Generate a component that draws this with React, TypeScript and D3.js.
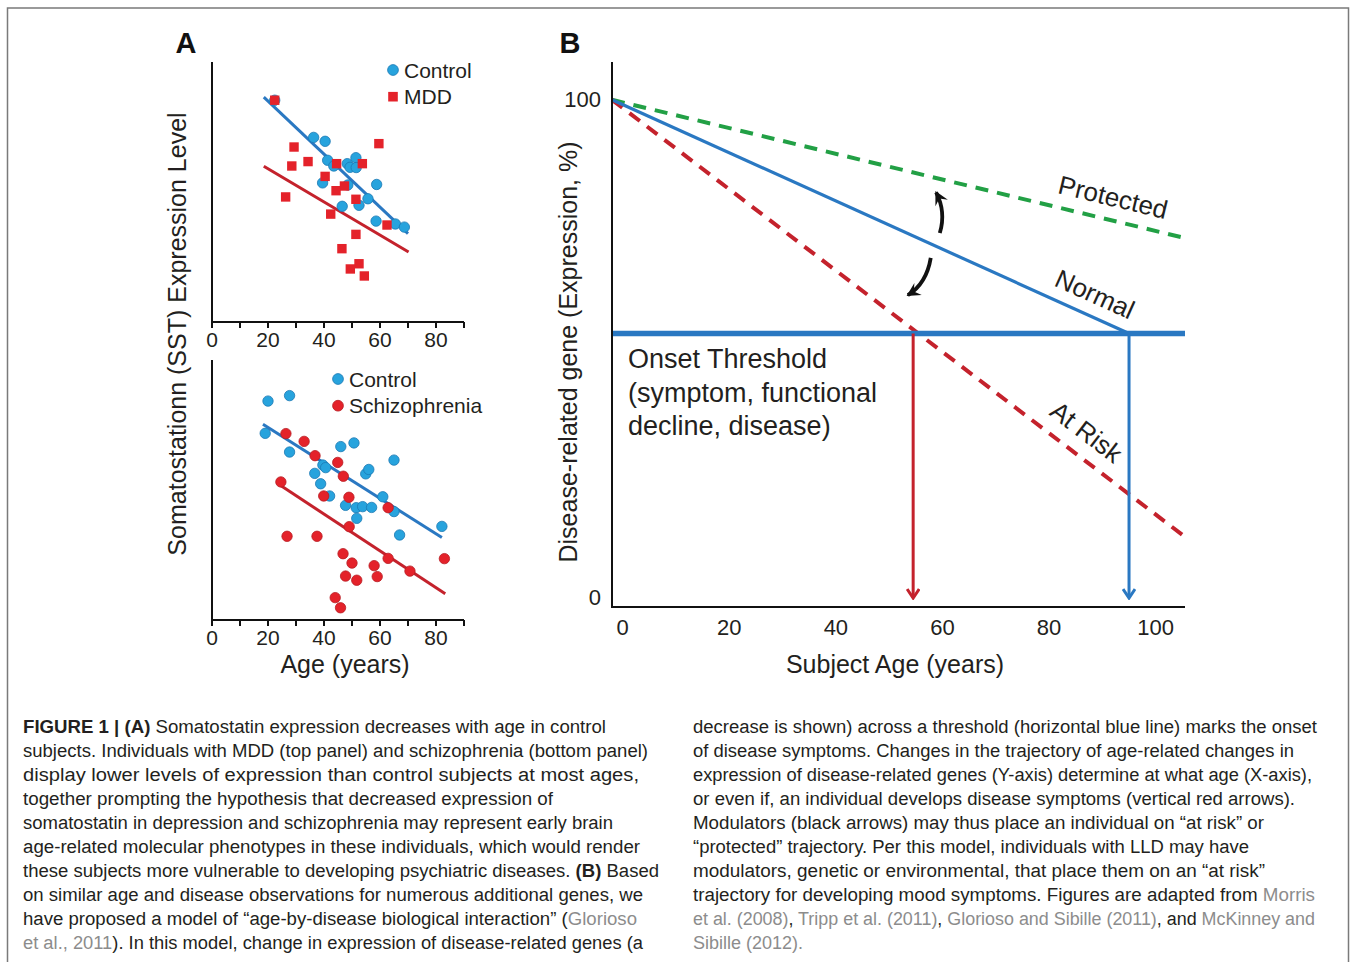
import React from "react";
import * as d3 from "d3";

// Panel A (top): SST expression vs age, [age, level]
const mddControl: [number, number][] = [
  [22.4, 85.3], [36.3, 71.0], [40.4, 69.5], [41.3, 62.2], [43.5, 60.0],
  [48.3, 60.9], [49.3, 59.5], [51.4, 63.2], [51.5, 59.4], [39.5, 53.5],
  [48.5, 52.7], [58.8, 52.9], [46.5, 44.5], [52.5, 44.9], [55.7, 47.4],
  [58.6, 38.8], [65.5, 37.7], [68.7, 36.5],
];
const mddPatients: [number, number][] = [
  [22.4, 85.3], [29.3, 67.3], [28.5, 60.0], [34.3, 61.7], [44.5, 60.9],
  [53.7, 60.9], [59.6, 68.6], [40.4, 56.0], [47.3, 52.3], [44.3, 50.5],
  [51.4, 47.2], [26.3, 48.1], [42.4, 41.5], [62.5, 37.3], [51.4, 33.7],
  [46.4, 28.2], [52.5, 22.4], [49.4, 20.4], [54.4, 17.7],
];
const mddControlFit: [number, number][] = [[18.5, 86.5], [70, 34.0]];
const mddPatientFit: [number, number][] = [[18.5, 59.9], [70.2, 26.9]];

// Panel A (bottom): control vs schizophrenia
const szControl: [number, number][] = [
  [20.0, 84.2], [27.7, 86.3], [19.0, 71.8], [27.7, 64.6], [46.0, 66.7],
  [50.7, 68.1], [39.6, 59.6], [40.6, 58.6], [36.7, 56.4], [54.9, 56.2],
  [56.0, 57.9], [65.0, 61.5], [38.8, 52.4], [42.0, 47.7], [47.7, 44.1],
  [51.5, 43.2], [53.8, 43.6], [57.0, 43.3], [51.7, 39.1], [61.0, 47.4],
  [65.0, 41.7], [67.0, 32.7], [82.1, 36.0],
];
const szPatients: [number, number][] = [
  [26.4, 71.7], [32.9, 68.7], [36.8, 63.2], [44.9, 60.6], [46.9, 55.3],
  [24.6, 53.1], [39.9, 47.7], [48.9, 47.2], [62.9, 43.2], [49.0, 35.9],
  [26.8, 32.2], [37.5, 32.2], [46.8, 25.5], [50.0, 21.9], [57.9, 20.9],
  [47.7, 16.9], [59.0, 16.7], [51.7, 15.3], [62.9, 23.7], [70.7, 18.8],
  [83.0, 23.6], [44.0, 8.6], [45.9, 4.7],
];
const szControlFit: [number, number][] = [[18.2, 75.3], [82.1, 31.7]];
const szPatientFit: [number, number][] = [[24.8, 51.5], [83.3, 10.1]];

const ageLabelsA = [0, 20, 40, 60, 80];
const ageTicksA = [0, 10, 20, 30, 40, 50, 60, 70, 80, 90];

// Panel B: model trajectories, [age, expression %]
const protectedPath: [number, number][] = [[-2, 100], [105.5, 72.2]];
const normalPath: [number, number][] = [[-2, 100], [95, 53]];
const atRiskPath: [number, number][] = [[-2, 100], [105.5, 12.1]];
const onsetThreshold = 53;
const onsetAtRisk = 54.5;
const onsetNormal = 95;
const upModulator: [number, number][] = [[59.5, 73.2], [60.7, 77.5], [58.8, 81.4]];
const downModulator: [number, number][] = [[57.8, 68.2], [57.0, 63.0], [53.5, 60.7]];
const ageLabelsB = [0, 20, 40, 60, 80, 100];
const levelLabelsB = [0, 100];

const BLUE_DOT = "#27a3dd";
const BLUE_LINE = "#2a78c2";
const RED = "#e4222a";
const RED_LINE = "#c4222c";
const GREEN = "#22a045";
const FONT = "'Liberation Sans', Arial, Helvetica, sans-serif";
const INK = "#231f20";
const LINK = "#8c8c8c";

type Seg = { t: string; b?: boolean; g?: boolean };
const captionLeft: Seg[][] = [
  [{ t: "FIGURE 1 | (A)", b: true }, { t: " Somatostatin expression decreases with age in control" }],
  [{ t: "subjects. Individuals with MDD (top panel) and schizophrenia (bottom panel)" }],
  [{ t: "display lower levels of expression than control subjects at most ages," }],
  [{ t: "together prompting the hypothesis that decreased expression of" }],
  [{ t: "somatostatin in depression and schizophrenia may represent early brain" }],
  [{ t: "age-related molecular phenotypes in these individuals, which would render" }],
  [{ t: "these subjects more vulnerable to developing psychiatric diseases. " }, { t: "(B)", b: true }, { t: " Based" }],
  [{ t: "on similar age and disease observations for numerous additional genes, we" }],
  [{ t: "have proposed a model of \u201cage-by-disease biological interaction\u201d (" }, { t: "Glorioso", g: true }],
  [{ t: "et al., 2011", g: true }, { t: "). In this model, change in expression of disease-related genes (a" }],
];
const captionLeftEnds = [606, 648, 639, 553, 613, 640, 659, 643, 637, 643];
const captionRight: Seg[][] = [
  [{ t: "decrease is shown) across a threshold (horizontal blue line) marks the onset" }],
  [{ t: "of disease symptoms. Changes in the trajectory of age-related changes in" }],
  [{ t: "expression of disease-related genes (Y-axis) determine at what age (X-axis)," }],
  [{ t: "or even if, an individual develops disease symptoms (vertical red arrows)." }],
  [{ t: "Modulators (black arrows) may thus place an individual on \u201cat risk\u201d or" }],
  [{ t: "\u201cprotected\u201d trajectory. Per this model, individuals with LLD may have" }],
  [{ t: "modulators, genetic or environmental, that place them on an \u201cat risk\u201d" }],
  [{ t: "trajectory for developing mood symptoms. Figures are adapted from " }, { t: "Morris", g: true }],
  [{ t: "et al. (2008)", g: true }, { t: ", " }, { t: "Tripp et al. (2011)", g: true }, { t: ", " }, { t: "Glorioso and Sibille (2011)", g: true }, { t: ", and " }, { t: "McKinney and", g: true }],
  [{ t: "Sibille (2012).", g: true }],
];
const captionRightEnds = [1317, 1294, 1312, 1295, 1264, 1249, 1265, 1315, 1315, 0];

const xA = d3.scaleLinear().domain([0, 90]).range([212, 464]);
const yTop = d3.scaleLinear().domain([0, 100]).range([322, 62]);
const yBot = d3.scaleLinear().domain([0, 100]).range([620, 360]);
const xB = d3.scaleLinear().domain([-2, 105.5]).range([612, 1185]);
const yB = d3.scaleLinear().domain([-2, 107.6]).range([607, 62]);

function ScatterPanel({ y, control, patients, controlFit, patientFit, square, legend, lx, ly }: any) {
  const line = d3.line<[number, number]>().x((d) => xA(d[0])).y((d) => y(d[1]));
  const [y0, y1] = y.range();
  return (
    <g>
      <path d={line(controlFit) || ""} stroke={BLUE_LINE} strokeWidth={3} fill="none" />
      <path d={line(patientFit) || ""} stroke={RED_LINE} strokeWidth={3} fill="none" />
      {control.map((d: [number, number], i: number) => (
        <circle key={"c" + i} cx={xA(d[0])} cy={y(d[1])} r={5.2} fill={BLUE_DOT} stroke="#1b78b4" strokeWidth={0.8} />
      ))}
      {patients.map((d: [number, number], i: number) =>
        square ? (
          <rect key={"p" + i} x={xA(d[0]) - 4.7} y={y(d[1]) - 4.7} width={9.4} height={9.4} fill={RED} />
        ) : (
          <circle key={"p" + i} cx={xA(d[0])} cy={y(d[1])} r={5.2} fill={RED} stroke="#b81c22" strokeWidth={0.8} />
        )
      )}
      <line x1={xA(0)} x2={xA(0)} y1={y1} y2={y0 + 1} stroke="#111" strokeWidth={2} />
      <line x1={xA(0) - 1} x2={xA(90)} y1={y0} y2={y0} stroke="#111" strokeWidth={2} />
      {ageTicksA.map((t) => (
        <line key={t} x1={xA(t)} x2={xA(t)} y1={y0} y2={y0 + 6} stroke="#111" strokeWidth={2} />
      ))}
      {ageLabelsA.map((t) => (
        <text key={t} x={xA(t)} y={y0 + 25} textAnchor="middle" fontSize={21} fill={INK}>{t}</text>
      ))}
      {/* legend */}
      <circle cx={lx} cy={ly} r={5.4} fill={BLUE_DOT} stroke="#1b78b4" strokeWidth={0.8} />
      <text x={lx + 11} y={ly + 7.5} fontSize={21} fill={INK}>Control</text>
      {square ? (
        <rect x={lx - 4.8} y={ly + 26.7 - 4.8} width={9.6} height={9.6} fill={RED} />
      ) : (
        <circle cx={lx} cy={ly + 26.7} r={5.4} fill={RED} stroke="#b81c22" strokeWidth={0.8} />
      )}
      <text x={lx + 11} y={ly + 34} fontSize={21} fill={INK}>{legend}</text>
    </g>
  );
}

function CaptionLines({ lines, ends, x }: { lines: Seg[][]; ends: number[]; x: number }) {
  return (
    <g>
      {lines.map((segs, i) => (
        <text key={i} x={x} y={733 + i * 24} fontSize={18} fill={INK}
          textLength={ends[i] ? ends[i] - x : undefined}
          lengthAdjust={ends[i] ? "spacingAndGlyphs" : undefined}>
          {segs.map((s, j) => (
            <tspan key={j} fontWeight={s.b ? "bold" : "normal"} fill={s.g ? LINK : INK}>{s.t}</tspan>
          ))}
        </text>
      ))}
    </g>
  );
}

export default function App() {
  const lineB = d3.line<[number, number]>().x((d) => xB(d[0])).y((d) => yB(d[1]));
  const curve = (pts: [number, number][]) => {
    const p = d3.path();
    p.moveTo(xB(pts[0][0]), yB(pts[0][1]));
    p.quadraticCurveTo(xB(pts[1][0]), yB(pts[1][1]), xB(pts[2][0]), yB(pts[2][1]));
    return p.toString();
  };
  const angle = (pts: [number, number][]) =>
    (Math.atan2(yB(pts[1][1]) - yB(pts[0][1]), xB(pts[1][0]) - xB(pts[0][0])) * 180) / Math.PI;
  const label = (txt: string, age: number, val: number, rot: number) => (
    <text x={xB(age)} y={yB(val)} textAnchor="middle" dominantBaseline="central" fontSize={26}
      fill={INK} transform={`rotate(${rot},${xB(age)},${yB(val)})`}>{txt}</text>
  );
  const yThr = yB(onsetThreshold);

  return (
    <svg width={1350} height={962} style={{ position: "absolute", left: 0, top: 0, background: "#fff" }}
      fontFamily={FONT}>
      <defs>
        <marker id="headBlack" viewBox="-14 -8 16 16" markerWidth={16} markerHeight={16} refX={0} refY={0}
          orient="auto" markerUnits="userSpaceOnUse">
          <path d="M1.5,0 L-12,-7 L-7,0 L-12,7 Z" fill="#111" />
        </marker>
        <marker id="headRed" viewBox="-12 -7 14 14" markerWidth={14} markerHeight={14} refX={0} refY={0}
          orient="auto" markerUnits="userSpaceOnUse">
          <path d="M-9,-6 L0,0 L-9,6" fill="none" stroke={RED_LINE} strokeWidth={3} />
        </marker>
        <marker id="headBlue" viewBox="-12 -7 14 14" markerWidth={14} markerHeight={14} refX={0} refY={0}
          orient="auto" markerUnits="userSpaceOnUse">
          <path d="M-9,-6 L0,0 L-9,6" fill="none" stroke={BLUE_LINE} strokeWidth={3} />
        </marker>
      </defs>
      <rect x={7.5} y={8} width={1341} height={1000} fill="none" stroke="#7a7a7a" strokeWidth={1.5} />

      {/* Panel A */}
      <text x={186} y={53} textAnchor="middle" fontSize={29} fontWeight="bold" fill="#111">A</text>
      <ScatterPanel y={yTop} control={mddControl} patients={mddPatients} controlFit={mddControlFit}
        patientFit={mddPatientFit} square legend="MDD" lx={393} ly={70} />
      <ScatterPanel y={yBot} control={szControl} patients={szPatients} controlFit={szControlFit}
        patientFit={szPatientFit} square={false} legend="Schizophrenia" lx={338} ly={379} />
      <text transform="translate(177,334) rotate(-90)" textAnchor="middle" dominantBaseline="central"
        fontSize={25} fill={INK}>Somatostationn (SST) Expression Level</text>
      <text x={345} y={673} textAnchor="middle" fontSize={25} fill={INK}>Age (years)</text>

      {/* Panel B */}
      <text x={570} y={53} textAnchor="middle" fontSize={29} fontWeight="bold" fill="#111">B</text>
      <path d={lineB(protectedPath) || ""} stroke={GREEN} strokeWidth={4} strokeDasharray="13,9" fill="none" />
      <path d={lineB(atRiskPath) || ""} stroke={RED_LINE} strokeWidth={4} strokeDasharray="13,9" fill="none" />
      <path d={lineB(normalPath) || ""} stroke={BLUE_LINE} strokeWidth={3.2} fill="none" />
      <line x1={xB(-2)} x2={xB(105.5)} y1={yThr} y2={yThr} stroke={BLUE_LINE} strokeWidth={5.5} />
      <line x1={xB(onsetAtRisk)} x2={xB(onsetAtRisk)} y1={yThr} y2={yB(0) + 1} stroke={RED_LINE}
        strokeWidth={3} markerEnd="url(#headRed)" />
      <line x1={xB(onsetNormal)} x2={xB(onsetNormal)} y1={yThr} y2={yB(0) + 1} stroke={BLUE_LINE}
        strokeWidth={3} markerEnd="url(#headBlue)" />
      <path d={curve(upModulator)} stroke="#111" strokeWidth={3.8} fill="none" markerEnd="url(#headBlack)" />
      <path d={curve(downModulator)} stroke="#111" strokeWidth={3.8} fill="none" markerEnd="url(#headBlack)" />
      {label("Protected", 92, 80.4, angle(protectedPath))}
      {label("Normal", 88.6, 60.9, angle(normalPath))}
      {label("At Risk", 87, 33.2, angle(atRiskPath))}
      <line x1={xB(-2)} x2={xB(-2)} y1={yB(107.6)} y2={yB(-2)} stroke="#111" strokeWidth={2} />
      <line x1={xB(-2) - 1} x2={xB(105.5)} y1={yB(-2)} y2={yB(-2)} stroke="#111" strokeWidth={2} />
      {levelLabelsB.map((v) => (
        <text key={v} x={601} y={yB(v)} textAnchor="end" dominantBaseline="central" fontSize={22} fill={INK}>{v}</text>
      ))}
      {ageLabelsB.map((t) => (
        <text key={t} x={xB(t)} y={yB(-2) + 28} textAnchor="middle" fontSize={22} fill={INK}>{t}</text>
      ))}
      <text x={628} y={368} fontSize={27} fill={INK}>Onset Threshold</text>
      <text x={628} y={402} fontSize={27} fill={INK}>(symptom, functional</text>
      <text x={628} y={435} fontSize={27} fill={INK}>decline, disease)</text>
      <text transform="translate(568,352) rotate(-90)" textAnchor="middle" dominantBaseline="central"
        fontSize={25} fill={INK}>Disease-related gene (Expression, %)</text>
      <text x={895} y={673} textAnchor="middle" fontSize={25} fill={INK}>Subject Age (years)</text>

      {/* Caption */}
      <CaptionLines lines={captionLeft} ends={captionLeftEnds} x={23} />
      <CaptionLines lines={captionRight} ends={captionRightEnds} x={693} />
    </svg>
  );
}
